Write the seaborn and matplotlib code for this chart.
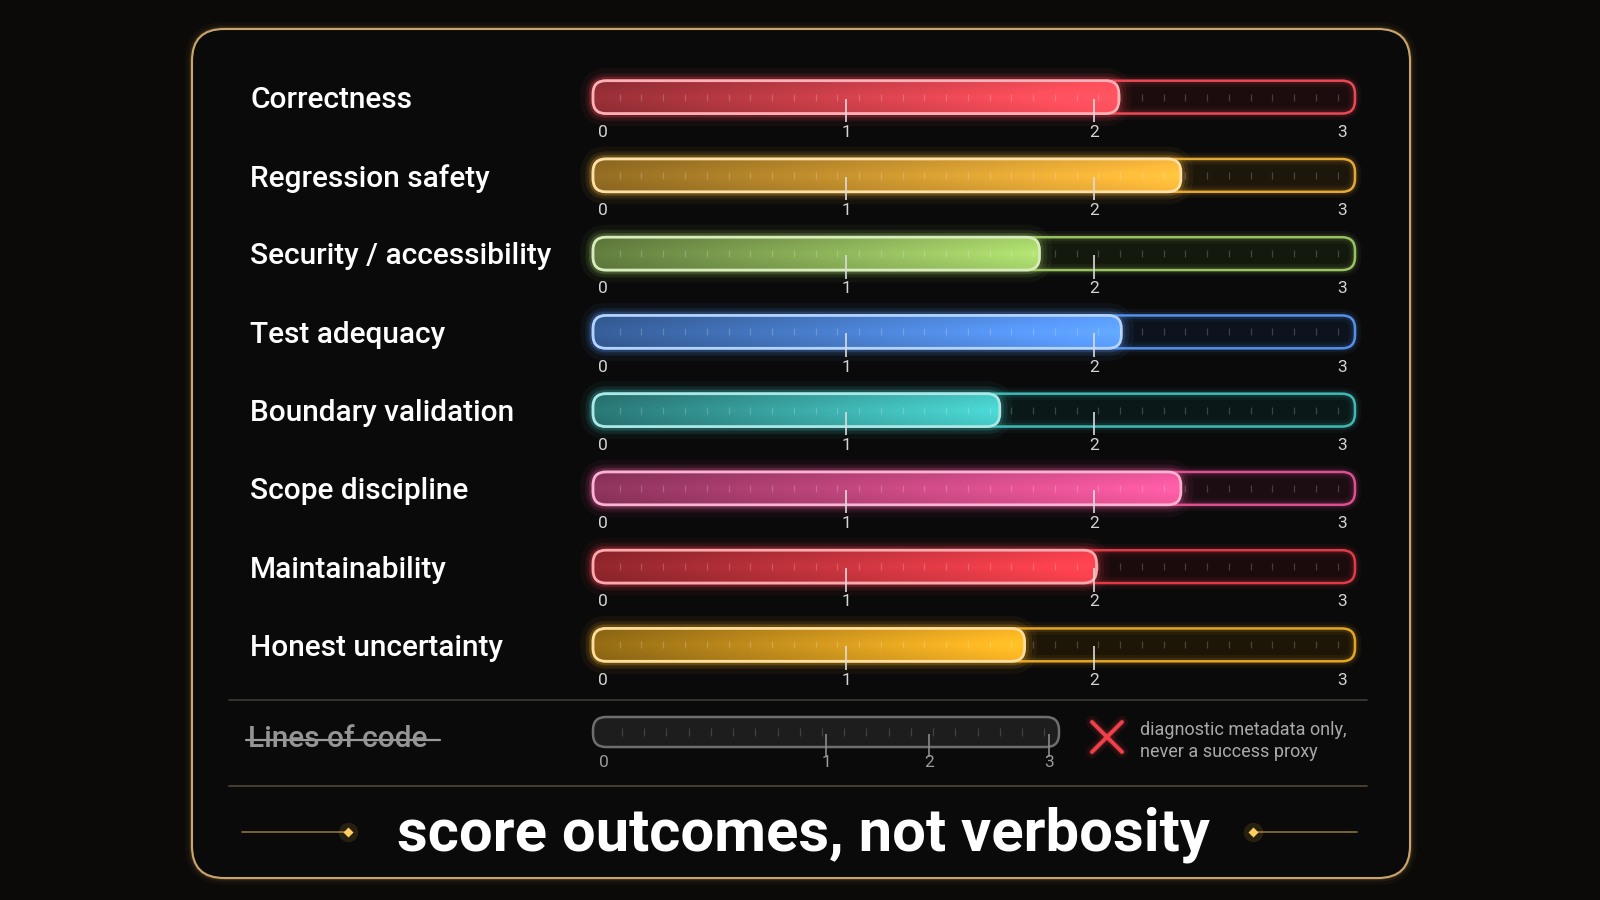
import numpy as np
import matplotlib
matplotlib.use("Agg")
import matplotlib.pyplot as plt
import seaborn as sns
from matplotlib.patches import FancyBboxPatch
from matplotlib.colors import to_rgb

# ---------------------------
# Data
# ---------------------------
criteria = ["Correctness", "Regression safety", "Security / accessibility",
            "Test adequacy", "Boundary validation", "Scope discipline",
            "Maintainability", "Honest uncertainty"]
scores = [2.10, 2.35, 1.78, 2.11, 1.62, 2.35, 2.01, 1.72]
bar_colors = ["#ff4f5c", "#f8b73a", "#a6d36a", "#5b9dff",
              "#46c9c6", "#f0579c", "#f4404c", "#f8b424"]
axis_ticks = [0, 1, 2, 3]

loc_label = "Lines of code"
loc_tick_labels = ["0", "1", "2", "3"]
loc_tick_at = [0.0, 1.5, 2.19, 3.0]
loc_note = "diagnostic metadata only,\nnever a success proxy"
headline = "score outcomes, not verbosity"

# ---------------------------
# Theme
# ---------------------------
sns.set_theme(style="dark", rc={"axes.facecolor": "none", "figure.facecolor": "#0b0a09"})
plt.rcParams["font.family"] = ["Roboto", "DejaVu Sans"]

W, H = 1600, 900
fig = plt.figure(figsize=(16, 9), dpi=100)
fig.patch.set_facecolor("#0b0a09")

# background / frame axes in pixel units
bg = fig.add_axes([0, 0, 1, 1], zorder=0)
bg.set_xlim(0, W)
bg.set_ylim(H, 0)
bg.axis("off")

for lw, a in [(10, 0.04), (5, 0.08), (2.5, 0.18)]:
    bg.add_patch(FancyBboxPatch((192, 29), 1218, 849, boxstyle="round,pad=0,rounding_size=32",
                                fc="none", ec="#d8a858", lw=lw, alpha=a))
bg.add_patch(FancyBboxPatch((192, 29), 1218, 849, boxstyle="round,pad=0,rounding_size=32",
                            fc="#0a0a0a", ec="#c9a46c", lw=1.5))

# separators
bg.plot([229, 1367], [700, 700], color="#3a3834", lw=1.3)
bg.plot([229, 1367], [786, 786], color="#4a4236", lw=1.3)

# row labels
row_px = [100 + 78.25 * i for i in range(len(criteria))]
for name, yp in zip(criteria, row_px):
    bg.text(250, yp, name, color="white", fontsize=21.5, fontweight="medium",
            ha="left", va="center")


def darker(c, f):
    r, g, b = to_rgb(c)
    return np.array([r * f, g * f, b * f])


def lighter(c, f):
    r, g, b = to_rgb(c)
    return (r + (1 - r) * f, g + (1 - g) * f, b + (1 - b) * f)


# ---------------------------
# Score bars
# ---------------------------
ax = fig.add_axes([593 / W, 1 - 684 / H, 762 / W, 626 / H], zorder=2)
sns.barplot(x=scores, y=criteria, hue=criteria, palette=bar_colors, legend=False,
            orient="h", width=0.42, saturation=1, ax=ax)

xmin, xmax = -0.02, 3.052
asp = (762 / (xmax - xmin)) / 78.25
rad = 13 / 248

bars = list(ax.patches)
for p in bars:
    x0, y0, w, h = p.get_x(), p.get_y(), p.get_width(), p.get_height()
    col = p.get_facecolor()[:3]
    p.remove()
    yc = y0 + h / 2
    box = f"round,pad=0,rounding_size={rad}"

    # track
    ax.add_patch(FancyBboxPatch((xmin, y0), xmax - xmin, h, boxstyle=box, mutation_aspect=asp,
                                fc=darker(col, 0.18), ec="none", alpha=0.55, zorder=1, clip_on=False))
    for lw, a in [(9, 0.05), (5, 0.10)]:
        ax.add_patch(FancyBboxPatch((xmin, y0), xmax - xmin, h, boxstyle=box, mutation_aspect=asp,
                                    fc="none", ec=col, lw=lw, alpha=a, zorder=2, clip_on=False))
    ax.add_patch(FancyBboxPatch((xmin, y0), xmax - xmin, h, boxstyle=box, mutation_aspect=asp,
                                fc="none", ec=col, lw=1.8, alpha=0.9, zorder=2, clip_on=False))

    # filled part with gradient + glow
    x1 = x0 + w
    for lw, a in [(18, 0.05), (11, 0.09), (6, 0.16)]:
        ax.add_patch(FancyBboxPatch((xmin, y0), x1 - xmin, h, boxstyle=box, mutation_aspect=asp,
                                    fc="none", ec=col, lw=lw, alpha=a, zorder=3, clip_on=False))
    fill = FancyBboxPatch((xmin, y0), x1 - xmin, h, boxstyle=box, mutation_aspect=asp,
                          fc="none", ec=lighter(col, 0.55), lw=2.0, zorder=5, clip_on=False)
    ax.add_patch(fill)
    t = np.linspace(0, 1, 256)[None, :, None]
    v = np.linspace(-1, 1, 24)[:, None, None]
    grad = darker(col, 0.55) + (np.array(col) - darker(col, 0.55)) * t
    grad = grad * (1.0 + 0.10 * (1 - np.abs(v)))
    grad = np.clip(grad, 0, 1)
    im = ax.imshow(grad, extent=(xmin, x1, y0 + h, y0), aspect="auto",
                   interpolation="bicubic", zorder=4)
    im.set_clip_path(fill)

    # minor ticks inside the track
    minor = np.arange(1 / 11.4, xmax - 0.03, 1 / 11.4)
    ax.vlines(minor, yc - 0.045, yc + 0.045, color="white", alpha=0.2, lw=0.9, zorder=6)
    # major ticks + labels
    for tk in axis_ticks:
        if 0 < tk < 3:
            ax.vlines(tk, yc + 0.02, yc + 0.32, color="#dcdcdc", lw=1.2, zorder=6)
        ax.text(tk + (0.02 if tk == 0 else 0), yc + 0.45, str(tk), color="#d4d4d4",
                fontsize=12.5, ha="center", va="center", zorder=6)

ax.set_xlim(xmin, xmax)
ax.set_ylim(len(criteria) - 0.5, -0.5)
ax.axis("off")

# ---------------------------
# Lines of code (not scored)
# ---------------------------
lx_min, lx_max = -0.074, 3.068
ax2 = fig.add_axes([593 / W, 1 - 771 / H, 466 / W, 78 / H], zorder=2)
ax2.set_xlim(lx_min, lx_max)
ax2.set_ylim(0.5, -0.5)
ax2.axis("off")
asp2 = (466 / (lx_max - lx_min)) / 78
lh = 0.385
lbox = f"round,pad=0,rounding_size={13 / 148.3}"
ax2.add_patch(FancyBboxPatch((lx_min, -lh / 2), lx_max - lx_min, lh, boxstyle=lbox,
                             mutation_aspect=asp2, fc="#1d1d1d", ec="#6e6e6e", lw=1.8,
                             zorder=1, clip_on=False))
lminor = np.arange(0.12, lx_max - 0.05, 0.15)
ax2.vlines(lminor, -0.045, 0.045, color="white", alpha=0.16, lw=0.9, zorder=2)
for pos, lab in zip(loc_tick_at, loc_tick_labels):
    if pos > 0:
        ax2.vlines(pos, 0.02, 0.32, color="#8a8a8a", lw=1.2, zorder=2)
    ax2.text(pos, 0.39, lab, color="#9a9a9a", fontsize=12.5, ha="center", va="center")

bg.text(248, 739, loc_label, color="#959595", fontsize=21.5, fontweight="medium",
        ha="left", va="center")
bg.plot([246, 440], [740, 740], color="#9c9c9c", lw=1.6)

# red X
for lw, a in [(9, 0.08), (5, 0.15)]:
    bg.plot([1092, 1122], [722, 752], color="#f0404a", lw=lw, alpha=a, solid_capstyle="round")
    bg.plot([1092, 1122], [752, 722], color="#f0404a", lw=lw, alpha=a, solid_capstyle="round")
bg.plot([1092, 1122], [722, 752], color="#f0404a", lw=2.8)
bg.plot([1092, 1122], [752, 722], color="#f0404a", lw=2.8)
bg.text(1140, 741, loc_note, color="#a9a9a9", fontsize=13, ha="left", va="center",
        linespacing=1.35)

# ---------------------------
# Headline
# ---------------------------
bg.text(803, 835, headline, color="white", fontsize=43, fontweight="bold",
        ha="center", va="center")
for xa, xb in [(242, 348), (1253, 1357)]:
    bg.plot([xa, xb], [832, 832], color="#b08a40", lw=1.2, alpha=0.8)
for xd in [348, 1253]:
    bg.plot(xd, 832, marker="D", ms=5, color="#ffd060", mec="none")
    bg.plot(xd, 832, marker="o", ms=14, color="#ffc040", alpha=0.12, mec="none")

fig.savefig("out.png", dpi=100, facecolor=fig.get_facecolor())
